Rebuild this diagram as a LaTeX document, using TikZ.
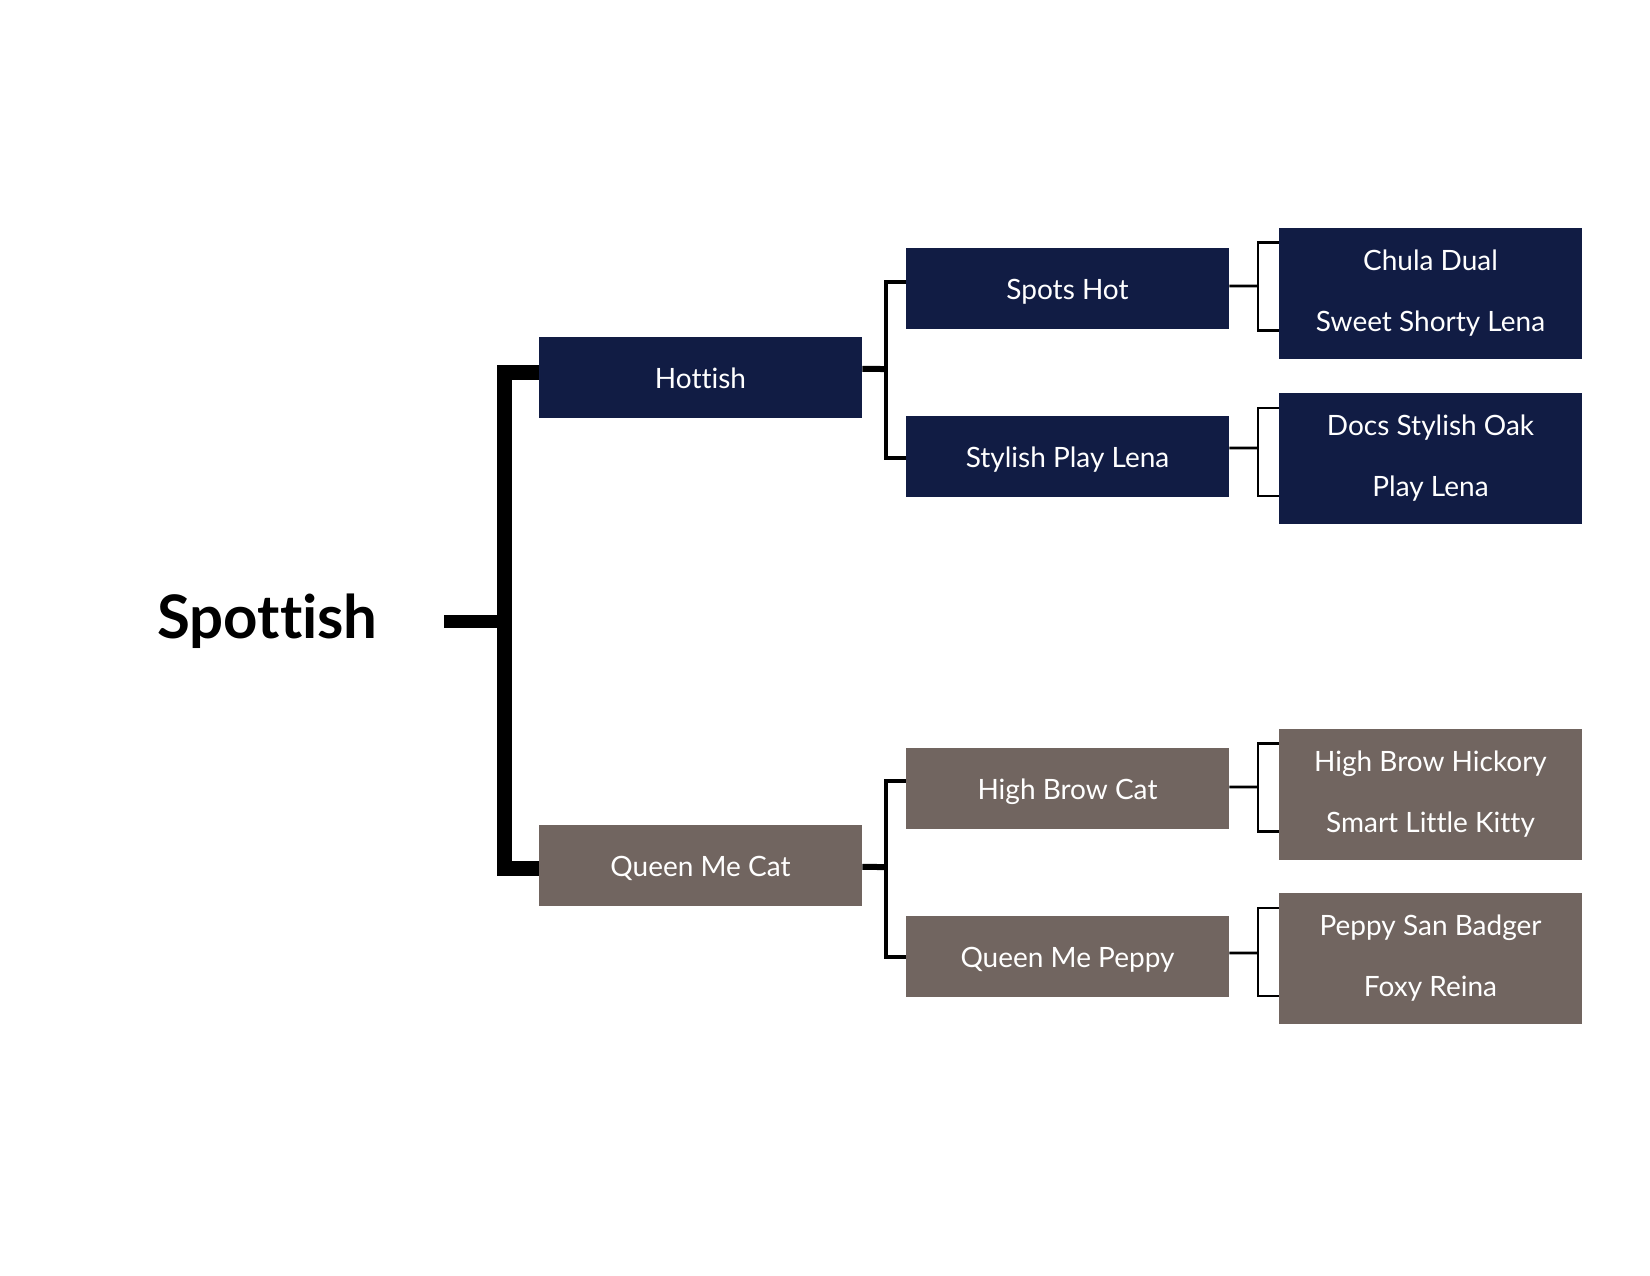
\documentclass[tikz,border=0pt]{standalone}
\usepackage{fontspec}
\setmainfont{Lato}[Ligatures={NoCommon}]
\definecolor{navy}{RGB}{17,28,68}
\definecolor{taupe}{RGB}{113,101,96}
\begin{document}
\begin{tikzpicture}[x=0.75pt,y=-0.75pt,
  midbox/.style={minimum width=242.25pt, minimum height=60.75pt, inner sep=0pt, text=white, text height=16pt, text depth=0pt, font=\fontsize{21}{25}\selectfont},
  leafbox/.style={minimum width=227.25pt, minimum height=98.25pt, inner sep=0pt, text=white, align=center, font=\fontsize{21}{45.75}\selectfont},
  bigline/.style={line width=11.25pt, line join=miter},
  stubline/.style={line width=9.75pt},
  medline/.style={line width=4.5pt},
  brline/.style={line width=3pt, line join=miter},
  thinline/.style={line width=2pt, line join=miter}]
\useasboundingbox (0,0) rectangle (1650,1275);
% root
\node[font=\fontsize{45}{54}\selectfont\bfseries, anchor=base] (root) at (267.5,638) {Spottish};
\coordinate (s0) at (444,621);
\coordinate (jr) at (504.5,621);
% level 1
\node[midbox, fill=navy] (hot) at (700.5,377.5) {Hottish};
\node[midbox, fill=taupe] (qmc) at (700.5,865.5) {Queen Me Cat};
% level 2
\node[midbox, fill=navy] (spots) at (1067.5,288.5) {Spots Hot};
\node[midbox, fill=navy] (stylish) at (1067.5,456.5) {Stylish Play Lena};
\node[midbox, fill=taupe] (hbc) at (1067.5,788.5) {High Brow Cat};
\node[midbox, fill=taupe] (qmp) at (1067.5,956.5) {Queen Me Peppy};
% level 3
\node[leafbox, fill=navy] (l1) at (1430.5,293) {Chula Dual\\Sweet Shorty Lena};
\node[leafbox, fill=navy] (l2) at (1430.5,458.5) {Docs Stylish Oak\\Play Lena};
\node[leafbox, fill=taupe] (l3) at (1430.5,794) {High Brow Hickory\\Smart Little Kitty};
\node[leafbox, fill=taupe] (l4) at (1430.5,958.5) {Peppy San Badger\\Foxy Reina};
% root bracket
\draw[stubline] (s0) -- (jr);
\draw[bigline] ([yshift=3.4pt]hot.west) -| (jr) |- ([yshift=-1.9pt]qmc.west);
% level-1 brackets
\coordinate (ju) at (886,369);
\coordinate (jl) at (886,867);
\draw[medline] ([yshift=6.4pt]hot.east) -- (ju);
\draw[brline] ([yshift=4.9pt]spots.west) -| (ju) |- ([yshift=-1.1pt]stylish.west);
\draw[medline] ([yshift=-1.1pt]qmc.east) -- (jl);
\draw[brline] ([yshift=5.6pt]hbc.west) -| (jl) |- (qmp.west);
% level-2 brackets
\coordinate (k1) at (1258,286);
\coordinate (k2) at (1258,448);
\coordinate (k3) at (1258,787);
\coordinate (k4) at (1258,953);
\draw[thinline] ([yshift=1.9pt]spots.east) -- (k1);
\draw[thinline] ([yshift=6.4pt]stylish.east) -- (k2);
\draw[thinline] ([yshift=1.1pt]hbc.east) -- (k3);
\draw[thinline] ([yshift=2.6pt]qmp.east) -- (k4);
\foreach \l/\k in {l1/k1,l2/k2,l3/k3,l4/k4}
  \draw[thinline] ([yshift=38pt]\l.west) -| (\k) |- ([yshift=-28pt]\l.west);
\end{tikzpicture}
\end{document}
